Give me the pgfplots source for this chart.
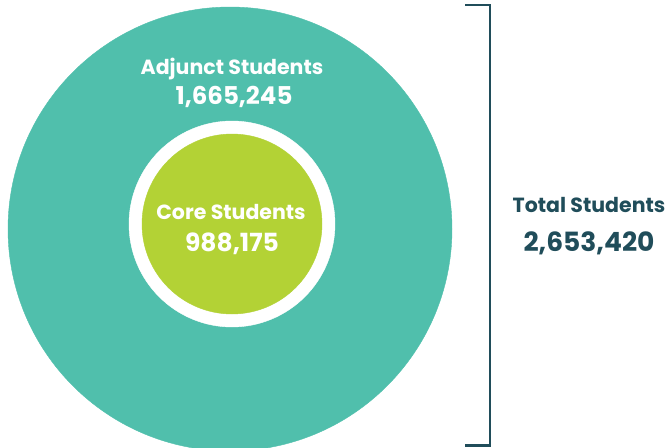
\documentclass[border=0pt]{standalone}
\usepackage{pgfplots}
\pgfplotsset{compat=1.18}
\usepackage{fontspec}
\setmainfont{Poppins}
\definecolor{tealc}{RGB}{80,191,172}
\definecolor{limec}{RGB}{179,210,53}
\definecolor{navyc}{RGB}{32,77,90}
\begin{document}
\begin{tikzpicture}
\path[use as bounding box] (0,0) rectangle (669pt,447pt);
\begin{axis}[at={(0,0)},anchor=south west,
  width=669pt,height=447pt,scale only axis,
  xmin=0,xmax=669,ymin=0,ymax=447,y dir=reverse,
  axis lines=none,clip=true,clip marker paths=true]
% outer circle: all students
\addplot[only marks,mark=*,mark size=222pt,color=tealc] coordinates {(230,229)};
% white ring
\addplot[only marks,mark=*,mark size=103pt,color=white] coordinates {(232,224)};
% core circle
\addplot[only marks,mark=*,mark size=90pt,color=limec] coordinates {(232,224)};
% bracket
\addplot[navyc,line width=2.3pt] coordinates {(465,5) (490,5) (490,445.5) (465,445.5)};
\end{axis}
\begin{axis}[at={(0,0)},anchor=south west,
  width=669pt,height=447pt,scale only axis,
  xmin=0,xmax=669,ymin=0,ymax=447,y dir=reverse,
  axis lines=none,clip=false]
\node[anchor=base,text=white,font=\fontsize{20.5}{20.5}\selectfont\bfseries] at (axis cs:232,75) {Adjunct Students};
\node[anchor=base,text=white,font=\fontsize{24.5}{24.5}\selectfont\bfseries] at (axis cs:234,105) {1,665,245};
\node[anchor=base,text=white,font=\fontsize{20.5}{20.5}\selectfont\bfseries] at (axis cs:231,219) {Core Students};
\node[anchor=base,text=white,font=\fontsize{25}{25}\selectfont\bfseries] at (axis cs:232,251) {988,175};
\node[anchor=base,text=navyc,font=\fontsize{20.5}{20.5}\selectfont\bfseries] at (axis cs:589,212) {Total Students};
\node[anchor=base,text=navyc,font=\fontsize{26.5}{26.5}\selectfont\bfseries] at (axis cs:589,251) {2,653,420};
\end{axis}
\end{tikzpicture}
\end{document}
